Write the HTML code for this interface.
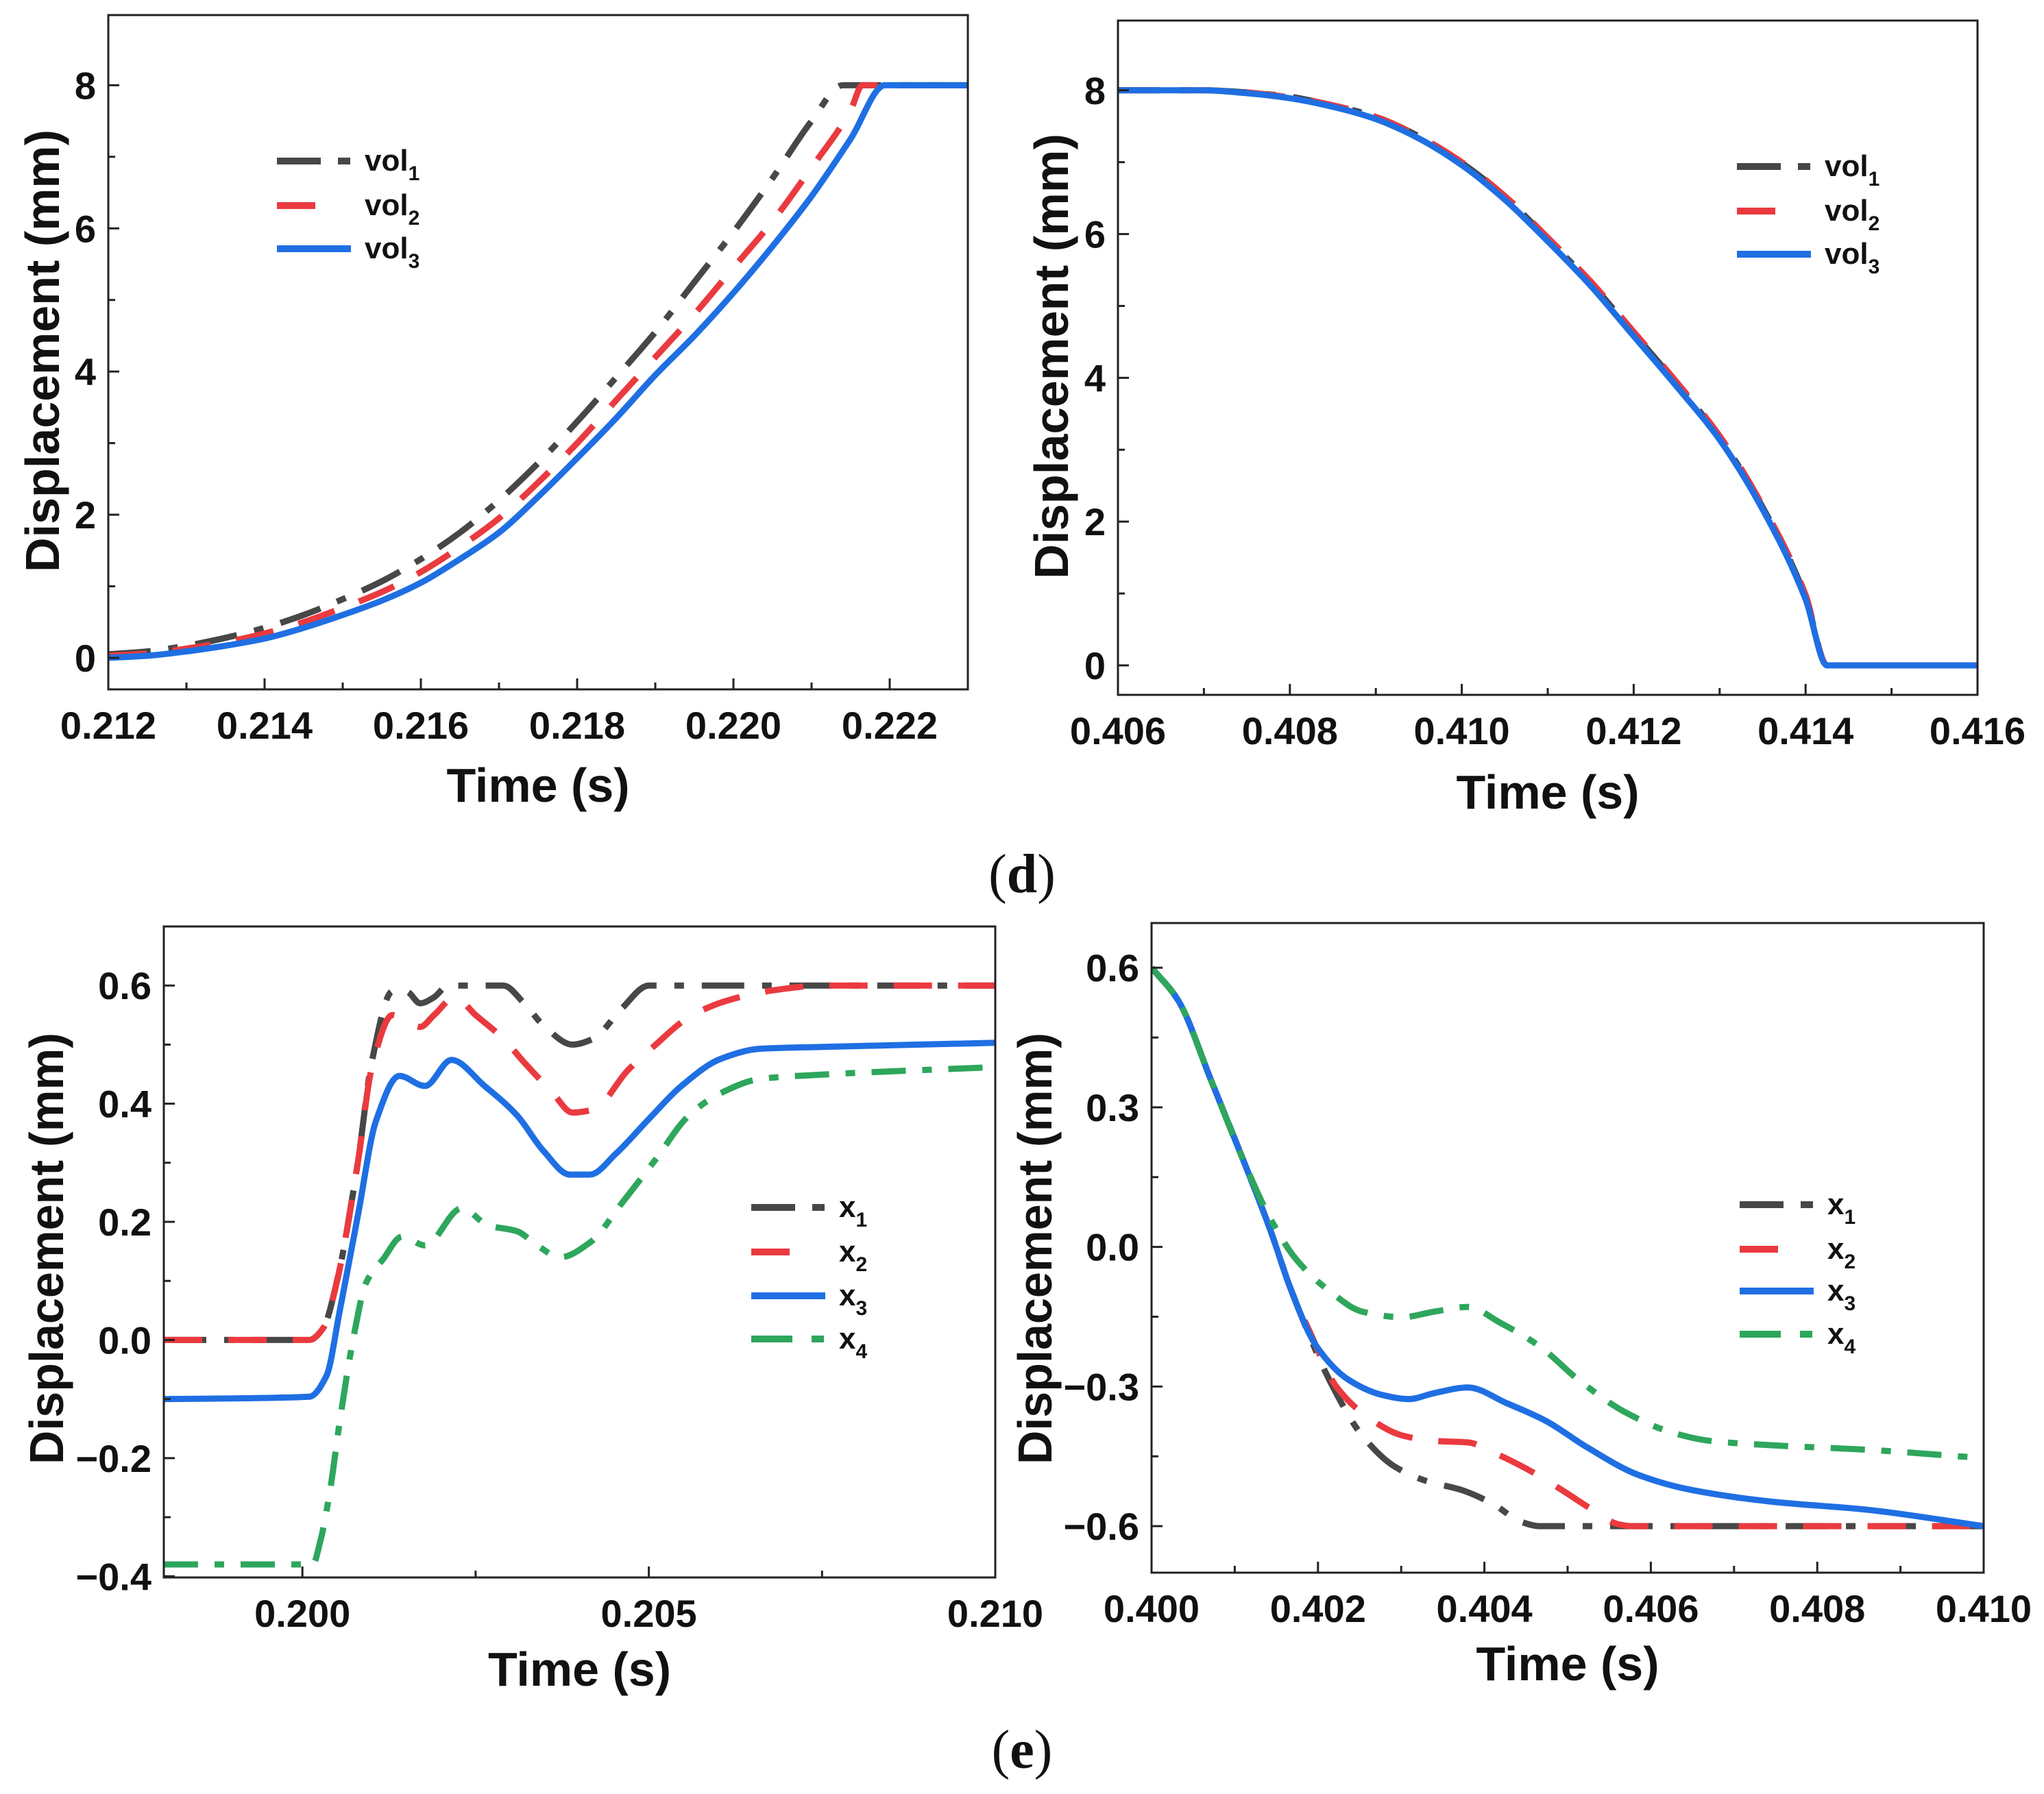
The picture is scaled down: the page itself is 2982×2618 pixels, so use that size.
<!DOCTYPE html>
<html><head><meta charset="utf-8"><style>
html,body{margin:0;padding:0;background:#fff;}
svg{display:block;}
text{font-family:"Liberation Sans",Arial,sans-serif;font-weight:bold;fill:#111;}
</style></head><body>
<svg id="fig" width="2982" height="2618" viewBox="0 0 2982 2618" xmlns="http://www.w3.org/2000/svg">
<rect width="2982" height="2618" fill="#fff"/>
<text x="1491" y="1302" text-anchor="middle" style="font-family:'Liberation Serif',serif;font-weight:normal;font-size:80px">(<tspan style="font-weight:bold">d</tspan>)</text>
<text x="1491" y="2580" text-anchor="middle" style="font-family:'Liberation Serif',serif;font-weight:normal;font-size:80px">(<tspan style="font-weight:bold">e</tspan>)</text>
</svg>
<script>
// ---------- Panel A data ----------
const aT1 = [0.212,0.2125,0.213,0.2135,0.214,0.2145,0.215,0.2155,0.216,0.2165,0.217,0.2175,0.218,0.2185,0.219,0.2195,0.220,0.2205,0.221,0.2214,0.223];
const aV1 = [0.05,0.09,0.17,0.28,0.42,0.6,0.82,1.07,1.38,1.75,2.2,2.72,3.3,3.92,4.55,5.25,5.95,6.7,7.5,8,8];
const aT2 = [0.212,0.2125,0.213,0.2135,0.214,0.2145,0.215,0.2155,0.216,0.2165,0.217,0.2175,0.218,0.2185,0.219,0.2195,0.220,0.2205,0.221,0.2215,0.22165,0.223];
const aV2 = [0.03,0.06,0.13,0.22,0.34,0.5,0.7,0.92,1.2,1.55,1.95,2.45,3.0,3.6,4.2,4.8,5.45,6.1,6.85,7.65,8,8];
const aT3 = [0.212,0.2125,0.213,0.2135,0.214,0.2145,0.215,0.2155,0.216,0.2165,0.217,0.2175,0.218,0.2185,0.219,0.2195,0.220,0.2205,0.221,0.2215,0.22194,0.223];
const aV3 = [0.0,0.03,0.09,0.17,0.27,0.42,0.6,0.8,1.05,1.38,1.75,2.25,2.79,3.35,3.95,4.5,5.1,5.75,6.45,7.25,8.0,8.0];
const aXTicks = ["0.212","0.214","0.216","0.218","0.220","0.222"];
const aYTicks = ["0","2","4","6","8"];
// ---------- Panel B data ----------
const bT = [0.406,0.407,0.4075,0.408,0.4085,0.409,0.4095,0.410,0.4105,0.411,0.4115,0.412,0.4125,0.413,0.4135,0.414,0.41425,0.416];
const bV1 = [8,8,7.97,7.91,7.79,7.63,7.36,6.99,6.52,5.93,5.32,4.62,3.92,3.17,2.2,0.95,0.0,0.0];
const bV2 = [8,8,7.97,7.9,7.79,7.63,7.36,7.0,6.53,5.95,5.34,4.64,3.94,3.19,2.22,0.98,0.0,0.0];
const bV3 = [8,8,7.96,7.89,7.77,7.6,7.33,6.96,6.48,5.9,5.28,4.58,3.88,3.14,2.17,0.92,0.0,0.0];
const bXTicks = ["0.406","0.408","0.410","0.412","0.414","0.416"];
const bYTicks = ["0","2","4","6","8"];
// ---------- Panel C data ----------
const cT1 = [0.198,0.2001,0.2003,0.2005,0.2008,0.2010,0.2013,0.2015,0.2017,0.2019,0.2021,0.2025,0.2029,0.2032,0.2035,0.2039,0.2042,0.2046,0.2050,0.2055,0.210];
const cV1 = [0,0,0.02,0.1,0.3,0.47,0.59,0.59,0.57,0.58,0.6,0.6,0.6,0.57,0.53,0.50,0.51,0.56,0.6,0.6,0.6];
const cT2 = [0.198,0.2001,0.2003,0.2005,0.2008,0.2010,0.2013,0.2015,0.2017,0.2019,0.2022,0.2025,0.2029,0.2032,0.2036,0.2039,0.2042,0.2047,0.2051,0.2055,0.2059,0.2063,0.2068,0.2075,0.210];
const cV2 = [0,0,0.02,0.1,0.3,0.46,0.55,0.54,0.53,0.55,0.58,0.55,0.51,0.47,0.42,0.385,0.39,0.457,0.50,0.54,0.565,0.58,0.592,0.6,0.6];
const cT3 = [0.198,0.2001,0.20035,0.20054,0.2008,0.20106,0.2014,0.20177,0.20215,0.20263,0.2031,0.20348,0.20386,0.20415,0.20453,0.205,0.20547,0.20604,0.20661,0.20747,0.210];
const cV3 = [-0.1,-0.096,-0.06,0.05,0.21,0.37,0.447,0.43,0.474,0.43,0.38,0.32,0.28,0.28,0.316,0.374,0.43,0.476,0.493,0.496,0.503];
const cT4 = [0.198,0.20015,0.20026,0.2004,0.20054,0.20073,0.20092,0.20116,0.20144,0.20177,0.2023,0.20268,0.2031,0.20339,0.20372,0.20415,0.20462,0.2051,0.20557,0.20604,0.20661,0.20747,0.210];
const cV4 = [-0.38,-0.38,-0.34,-0.254,-0.137,0.0,0.097,0.136,0.175,0.16,0.223,0.194,0.184,0.16,0.14,0.165,0.233,0.306,0.379,0.418,0.442,0.449,0.462];
const cXTicks = ["0.200","0.205","0.210"];
const cYTicks = ["−0.4","−0.2","0.0","0.2","0.4","0.6"];
// ---------- Panel D data ----------
const dT0 = [0.400,0.40032,0.40072,0.40111,0.40143,0.40167];
const dV0 = [0.6,0.53,0.356,0.183,0.035,-0.089];
const dT1 = [0.40182,0.40214,0.40253,0.40293,0.40332,0.40372,0.40411,0.40443,0.40466,0.410];
const dV1 = [-0.157,-0.287,-0.405,-0.473,-0.504,-0.522,-0.553,-0.59,-0.6,-0.6];
const dT2 = [0.4019,0.40222,0.40261,0.40301,0.4034,0.4038,0.40411,0.40459,0.40498,0.4053,0.40561,0.40577,0.410];
const dV2 = [-0.182,-0.30,-0.367,-0.405,-0.417,-0.42,-0.442,-0.485,-0.528,-0.565,-0.596,-0.6,-0.6];
const dT3 = [0.40198,0.40238,0.40277,0.40309,0.4034,0.4038,0.40427,0.40474,0.40522,0.40585,0.40648,0.40743,0.40861,0.410];
const dV3 = [-0.213,-0.287,-0.318,-0.327,-0.314,-0.302,-0.336,-0.374,-0.429,-0.49,-0.522,-0.547,-0.565,-0.6];
const dT4 = [0.400,0.40032,0.40072,0.40111,0.40143,0.40174,0.40214,0.40253,0.40301,0.4034,0.4038,0.40419,0.40466,0.40514,0.40569,0.40624,0.40672,0.40743,0.40861,0.410];
const dV4 = [0.6,0.53,0.356,0.183,0.06,-0.027,-0.095,-0.139,-0.151,-0.139,-0.129,-0.163,-0.213,-0.287,-0.355,-0.398,-0.417,-0.426,-0.436,-0.454];
const dXTicks = ["0.400","0.402","0.404","0.406","0.408","0.410"];
const dYTicks = ["−0.6","−0.3","0.0","0.3","0.6"];

const NS = "http://www.w3.org/2000/svg";
const svg = document.getElementById('fig');
const COL = {k:"#474747", r:"#ea3a3f", b:"#1f6fe3", g:"#2ea65c"};
const STY = {
  k:{c:COL.k, d:"62 26 14 26", ld:"64 25 18 200"},
  r:{c:COL.r, d:"56 38", ld:"56 200"},
  b:{c:COL.b, d:"", ld:""},
  g:{c:COL.g, d:"50 24 14 24", ld:"60 28 18 200"}
};
function mk(tag, attrs, parent){
  const e = document.createElementNS(NS, tag);
  for (const k in attrs) e.setAttribute(k, attrs[k]);
  (parent||svg).appendChild(e);
  return e;
}
function monoPath(pts){
  const n = pts.length;
  const xs = pts.map(p=>p[0]), ys = pts.map(p=>p[1]);
  const d = [], m = new Array(n);
  for (let i=0;i<n-1;i++) d.push((ys[i+1]-ys[i])/Math.max(1e-6, xs[i+1]-xs[i]));
  m[0]=d[0]; m[n-1]=d[n-2];
  for (let i=1;i<n-1;i++){
    if (d[i-1]*d[i] <= 0) m[i]=0;
    else { const w1=2*(xs[i+1]-xs[i])+(xs[i]-xs[i-1]), w2=(xs[i+1]-xs[i])+2*(xs[i]-xs[i-1]);
           m[i]=(w1+w2)/(w1/d[i-1]+w2/d[i]); }
  }
  let s = "M"+xs[0].toFixed(1)+","+ys[0].toFixed(1);
  for (let i=0;i<n-1;i++){
    const h = xs[i+1]-xs[i];
    s += " C"+(xs[i]+h/3).toFixed(1)+","+(ys[i]+m[i]*h/3).toFixed(1)+" "+(xs[i+1]-h/3).toFixed(1)+","+(ys[i+1]-m[i+1]*h/3).toFixed(1)+" "+xs[i+1].toFixed(1)+","+ys[i+1].toFixed(1);
  }
  return s;
}
function panel(cfg){
  const g = mk('g', {});
  
  
  const X = v => cfg.L + (v-cfg.x0)/(cfg.x1-cfg.x0)*(cfg.R-cfg.L);
  const Y = v => cfg.B - (v-cfg.y0)/(cfg.y1-cfg.y0)*(cfg.B-cfg.T);
  const cid = cfg.name+"-clip";
  const defs = mk('defs', {}, g);
  const cp = mk('clipPath', {id:cid}, defs);
  mk('rect', {x:cfg.L, y:cfg.T, width:cfg.R-cfg.L, height:cfg.B-cfg.T}, cp);
  const sg = mk('g', {'clip-path':'url(#'+cid+')'}, g);
  cfg.series.forEach(s => {
    const pts = s.t.map((t,i)=>[X(t), Y(s.v[i])]);
    const st = STY[s.s];
    const p = mk('path', {d:monoPath(pts), fill:'none', stroke:st.c, 'stroke-width':9, 'stroke-linejoin':'round'}, sg);
    if (st.d) p.setAttribute('stroke-dasharray', st.d);
    
    
  });
  const fr = mk('rect', {x:cfg.L, y:cfg.T, width:cfg.R-cfg.L, height:cfg.B-cfg.T, fill:'none', stroke:'#222', 'stroke-width':3}, g);
  
  
  cfg.xTicks.forEach((lab,i) => {
    const v = cfg.xMaj0 + i*cfg.xStep;
    const x = X(v);
    mk('line', {x1:x, x2:x, y1:cfg.B, y2:cfg.B-16, stroke:'#222', 'stroke-width':3}, g);
    const tx = mk('text', {x:x, y:cfg.B+72, 'text-anchor':'middle', 'font-size':56}, g);
    tx.textContent = lab;
    
    
  });
  for (let v=cfg.xMin0; v<cfg.x1-1e-9; v+=cfg.xStep){
    const x = X(v); if (x<cfg.L+2||x>cfg.R-2) continue;
    mk('line', {x1:x, x2:x, y1:cfg.B, y2:cfg.B-10, stroke:'#222', 'stroke-width':3}, g);
  }
  cfg.yTicks.forEach((lab,i) => {
    const v = cfg.yMaj0 + i*cfg.yStep;
    const y = Y(v);
    mk('line', {x1:cfg.L, x2:cfg.L+16, y1:y, y2:y, stroke:'#222', 'stroke-width':3}, g);
    const tx = mk('text', {x:cfg.L-18, y:y+20, 'text-anchor':'end', 'font-size':56}, g);
    tx.textContent = lab;
    
    
  });
  for (let v=cfg.yMaj0+cfg.yStep/2; v<cfg.y1; v+=cfg.yStep){
    const y = Y(v); if (y<cfg.T+2) continue;
    mk('line', {x1:cfg.L, x2:cfg.L+10, y1:y, y2:y, stroke:'#222', 'stroke-width':3}, g);
  }
  const xt = mk('text', {x:(cfg.L+cfg.R)/2, y:cfg.xTitleY, 'text-anchor':'middle', 'font-size':70}, g);
  xt.textContent = "Time (s)";
  
  
  const yt = mk('text', {x:0, y:0, 'text-anchor':'middle', 'font-size':70, textLength:cfg.yTitleLen, lengthAdjust:'spacingAndGlyphs',
     transform:'translate('+cfg.yTitleX+','+cfg.yTitleY+') rotate(-90)'}, g);
  yt.textContent = "Displacement (mm)";
  
  
  const lg = mk('g', {}, g);
  
  
  cfg.series.forEach((s,i) => {
    const y = cfg.legY[i];
    const st = STY[s.s];
    const ln = mk('line', {x1:cfg.legX, x2:cfg.legX+108, y1:y, y2:y, stroke:st.c, 'stroke-width':10}, lg);
    if (st.ld) ln.setAttribute('stroke-dasharray', st.ld);
    
    
    const tx = mk('text', {x:cfg.legX+128, y:y+14, 'font-size':44}, lg);
    
    
    tx.appendChild(document.createTextNode(cfg.legBase));
    const sub = mk('tspan', {dy:14, 'font-size':30}, tx);
    sub.textContent = String(i+1);
  });
}

panel({name:'panel-a', L:158, R:1412, T:22, B:1006, x0:0.212, x1:0.223, y0:-0.44, y1:8.98,
  xTicks:aXTicks, xMaj0:0.212, xStep:0.002, xMin0:0.213, yTicks:aYTicks, yMaj0:0, yStep:2,
  xTitleY:1170, yTitleX:86, yTitleY:512, yTitleLen:646, legX:404, legY:[235,300,363], legBase:'vol',
  series:[{t:aT1,v:aV1,s:'k',label:'vol1'},{t:aT2,v:aV2,s:'r',label:'vol2'},{t:aT3,v:aV3,s:'b',label:'vol3'}]});
panel({name:'panel-b', L:1631, R:2885, T:30, B:1014, x0:0.406, x1:0.416, y0:-0.41, y1:8.97,
  xTicks:bXTicks, xMaj0:0.406, xStep:0.002, xMin0:0.407, yTicks:bYTicks, yMaj0:0, yStep:2,
  xTitleY:1180, yTitleX:1558, yTitleY:520, yTitleLen:650, legX:2534, legY:[243,308,371], legBase:'vol',
  series:[{t:bT,v:bV1,s:'k',label:'vol1'},{t:bT,v:bV2,s:'r',label:'vol2'},{t:bT,v:bV3,s:'b',label:'vol3'}]});
panel({name:'panel-c', L:239, R:1452, T:1352, B:2302, x0:0.198, x1:0.210, y0:-0.402, y1:0.70,
  xTicks:cXTicks, xMaj0:0.200, xStep:0.005, xMin0:0.2025, yTicks:cYTicks, yMaj0:-0.4, yStep:0.2,
  xTitleY:2460, yTitleX:92, yTitleY:1822, yTitleLen:630, legX:1096, legY:[1762,1827,1891,1954], legBase:'x',
  series:[{t:cT1,v:cV1,s:'k',label:'x1'},{t:cT2,v:cV2,s:'r',label:'x2'},{t:cT3,v:cV3,s:'b',label:'x3'},{t:cT4,v:cV4,s:'g',label:'x4'}]});
panel({name:'panel-d', L:1680, R:2894, T:1347, B:2295, x0:0.400, x1:0.410, y0:-0.70, y1:0.696,
  xTicks:dXTicks, xMaj0:0.400, xStep:0.002, xMin0:0.401, yTicks:dYTicks, yMaj0:-0.6, yStep:0.3,
  xTitleY:2452, yTitleX:1534, yTitleY:1822, yTitleLen:630, legX:2538, legY:[1758,1823,1884,1947], legBase:'x',
  series:[{t:dT0.concat(dT1),v:dV0.concat(dV1),s:'k',label:'x1'},{t:dT0.concat(dT2),v:dV0.concat(dV2),s:'r',label:'x2'},
          {t:dT0.concat(dT3),v:dV0.concat(dV3),s:'b',label:'x3'},{t:dT4,v:dV4,s:'g',label:'x4'}]});
</script>
</body></html>
